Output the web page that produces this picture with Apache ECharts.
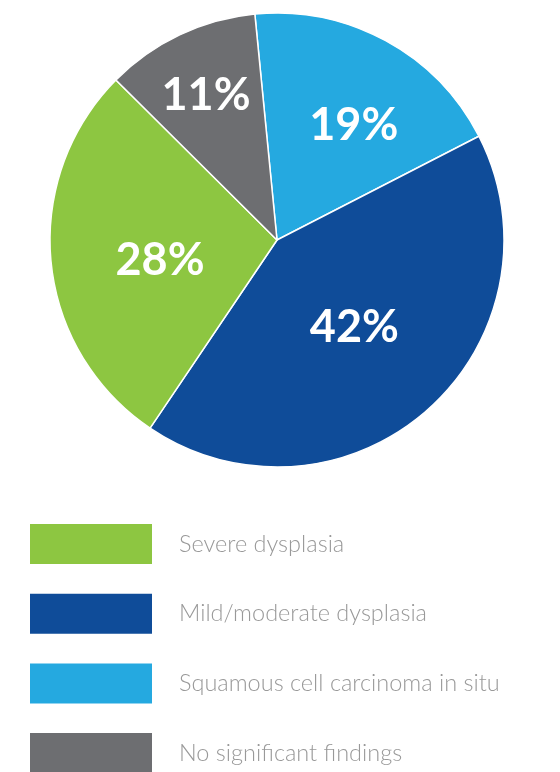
<!DOCTYPE html>
<html>
<head>
<meta charset="utf-8">
<script src="https://cdn.jsdelivr.net/npm/echarts@6/dist/echarts.min.js"></script>
<style>
html, body { margin: 0; padding: 0; background: #fff; }
#main { width: 560px; height: 772px; }
</style>
</head>
<body>
<div id="main"></div>
<script>
// slice order follows the picture, clockwise from the top
var categories = ['Squamous cell carcinoma in situ', 'Mild/moderate dysplasia', 'Severe dysplasia', 'No significant findings'];
var values = [19, 42, 28, 11];
var colors = ['#25A9E0', '#0F4C99', '#8DC641', '#6D6E71'];
var legendOrder = ['Severe dysplasia', 'Mild/moderate dysplasia', 'Squamous cell carcinoma in situ', 'No significant findings'];

// nudge of each label from its default inside spot
var labelShift = [[21, -12], [0, 0], [-1, 9], [-21, -39]];

var myChart = echarts.init(document.getElementById('main'));
var pieData = [];
for (var i = 0; i < categories.length; i++) {
	pieData.push({name: categories[i], value: values[i], itemStyle: {color: colors[i]}});
}
var option = {
	animation: false,
	legend: {
		orient: 'vertical',
		left: 28,
		top: 522,
		height: 300,
		padding: 0,
		icon: 'rect',
		itemWidth: 124,
		itemHeight: 42,
		itemGap: 25.7,
		selectedMode: false,
		data: legendOrder,
		textStyle: {
			fontFamily: 'Lato',
			fontWeight: 300,
			fontSize: 23.5,
			color: '#999999',
			padding: [0, 0, 0, 21]
		}
	},
	series: [
		{
			type: 'pie',
			center: [277, 240],
			radius: [0, 227],
			startAngle: 95.6,
			clockwise: true,
			itemStyle: {borderColor: '#ffffff', borderWidth: 1.5},
			label: {
				show: true,
				position: 'inside',
				formatter: '{c}%',
				color: '#ffffff',
				fontFamily: 'Lato',
				fontWeight: 'bold',
				fontSize: 45
			},
			labelLayout: function (params) {
				var s = labelShift[params.dataIndex];
				return {dx: s[0], dy: s[1]};
			},
			emphasis: {disabled: true},
			data: pieData
		}
	]
};
myChart.setOption(option);
</script>
</body>
</html>
